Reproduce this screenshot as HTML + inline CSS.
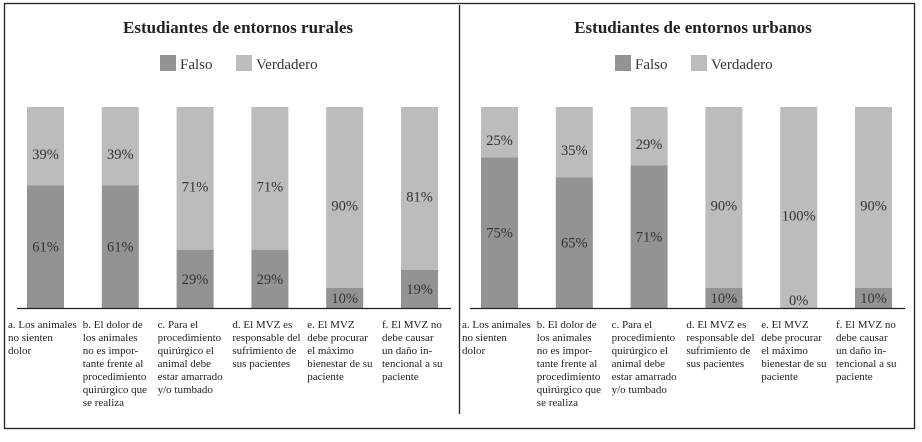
<!DOCTYPE html>
<html><head><meta charset="utf-8"><style>
body{margin:0;background:#fff;}
svg text{font-family:"Liberation Serif",serif;}
</style></head><body>
<svg id="chart" width="922" height="437" viewBox="0 0 922 437" xmlns="http://www.w3.org/2000/svg">
<rect x="4.5" y="3.5" width="910" height="425" fill="none" stroke="#222" stroke-width="1.3"/>
<line x1="459.5" y1="5" x2="459.5" y2="414" stroke="#222" stroke-width="1.3"/>
</svg>
<script>
const categories=[["a. Los animales","no sienten","dolor"],["b. El dolor de","los animales","no es impor-","tante frente al","procedimiento","quirúrgico que","se realiza"],["c. Para el","procedimiento","quirúrgico el","animal debe","estar amarrado","y/o tumbado"],["d. El MVZ es","responsable del","sufrimiento de","sus pacientes"],["e. El MVZ","debe procurar","el máximo","bienestar de su","paciente"],["f. El MVZ no","debe causar","un daño in-","tencional a su","paciente"]];
const ruralFalso=[61,61,29,29,10,19];
const ruralVerdadero=[39,39,71,71,90,81];
const urbanFalso=[75,65,71,10,0,10];
const urbanVerdadero=[25,35,29,90,100,90];
const titles=["Estudiantes de entornos rurales","Estudiantes de entornos urbanos"];
const legendLabels=["Falso","Verdadero"];
const NS="http://www.w3.org/2000/svg";
const svg=document.getElementById("chart");
function mk(tag,attrs,txt){const e=document.createElementNS(NS,tag);for(const k in attrs)e.setAttribute(k,attrs[k]);if(txt!==undefined)e.textContent=txt;svg.appendChild(e);return e;}
const panels=[{x0:27,axisX1:17,axisX2:451,cx:238,f:ruralFalso,v:ruralVerdadero,key:"rural"},{x0:481,axisX1:470,axisX2:905,cx:693,f:urbanFalso,v:urbanVerdadero,key:"urban"}];
const baseY=308,topY=107,bw=37,step=74.8;
const yScale=p=>baseY-(baseY-topY)*p/100;
panels.forEach((P,pi)=>{
 const t=mk("text",{x:P.cx,y:33,"text-anchor":"middle","font-size":"17","font-weight":"bold",fill:"#222"},titles[pi]);
 
 
 const lx=[P.cx-78,P.cx-2];
 legendLabels.forEach((l,i)=>{
  const r=mk("rect",{x:lx[i],y:55,width:16,height:16,fill:i?"#bcbcbc":"#939393"});
  
  
  const lt=mk("text",{x:lx[i]+20,y:69,"font-size":"15",fill:"#333"},l);
  
  
 });
 P.f.forEach((fv,i)=>{
  const x=P.x0+i*step;
  const vv=P.v[i];
  const rv=mk("rect",{x:x,y:yScale(fv+vv),width:bw,height:yScale(fv)-yScale(fv+vv),fill:"#bcbcbc"});
  
  
  const rf=mk("rect",{x:x,y:yScale(fv),width:bw,height:baseY-yScale(fv),fill:"#939393"});
  
  
  const vy=Math.min((yScale(fv)+yScale(fv+vv))/2+8,300);
  const tv=mk("text",{x:x+bw/2,y:vy+5,"text-anchor":"middle","font-size":"14.5",fill:"#333"},vv+"%");
  
  
  const fy=Math.min((yScale(fv)+baseY)/2,300);
  const tf=mk("text",{x:x+bw/2,y:fy+5,"text-anchor":"middle","font-size":"14.5",fill:"#333"},fv+"%");
  
  
  const cat=mk("text",{x:x-19,y:328,"font-size":"11",fill:"#222"});
  
  
  categories[i].forEach((ln,j)=>{const s=document.createElementNS(NS,"tspan");s.setAttribute("x",x-19);s.setAttribute("y",328+j*13);s.textContent=ln;cat.appendChild(s);});
 });
 const ax=mk("line",{x1:P.axisX1,y1:baseY+0.5,x2:P.axisX2,y2:baseY+0.5,stroke:"#222","stroke-width":"1.2"});
 
 
});
</script>
</body></html>
